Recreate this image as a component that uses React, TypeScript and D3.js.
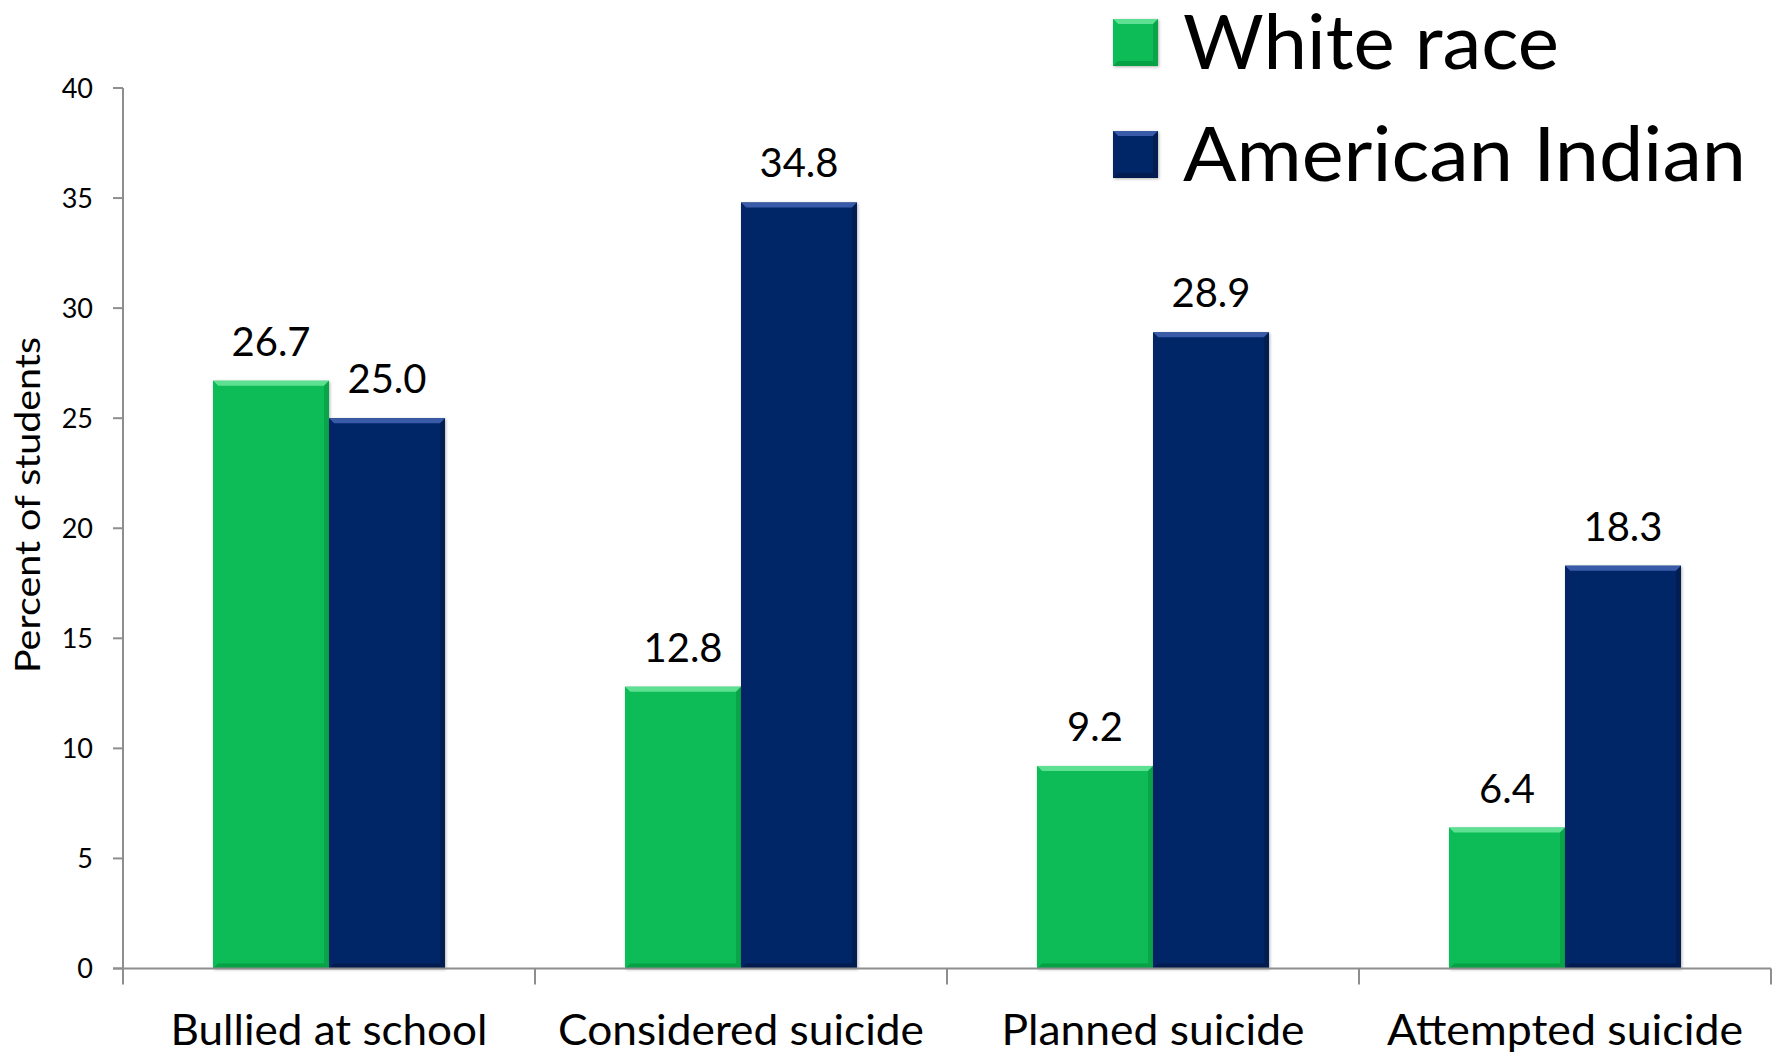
import React from "react";
import * as d3 from "d3";

const categories = ["Bullied at school", "Considered suicide", "Planned suicide", "Attempted suicide"];
const seriesNames = ["White race", "American Indian"];
const whiteRace = [26.7, 12.8, 9.2, 6.4];
const americanIndian = [25.0, 34.8, 28.9, 18.3];
const yTicks = [0, 5, 10, 15, 20, 25, 30, 35, 40];
const colors = ["#0ABC57", "#062568"];
const lightColors = ["#5EE092", "#3A5CA8"];
const darkColors = ["#06963F", "#031845"];

const W = 1775;
const H = 1053;
const FONT = "Lato, 'Open Sans', sans-serif";

export default function App() {
  const left = 123;
  const right = 1771;
  const top = 88;
  const bottom = 968.5;

  const x0 = d3.scaleBand<string>().domain(categories).range([left, right]).padding(0);
  const cw = x0.bandwidth();
  const x1 = d3.scaleBand<string>().domain(seriesNames).range([cw * 0.2185, cw * 0.7815]).padding(0);
  const y = d3.scaleLinear().domain([0, 40]).range([bottom, top]);
  const series = [whiteRace, americanIndian];
  const axisColor = "#8E8E8E";
  const b = 5;
  const catWidths = [317, 366, 303, 356];
  const legendWidths = [376, 563];

  const bar = (xx: number, yy: number, w: number, h: number, si: number, key: string) => (
    <g key={key}>
      <rect x={xx} y={yy} width={w} height={h} fill={colors[si]} filter="url(#shadow)" />
      <polygon points={`${xx},${yy} ${xx + w},${yy} ${xx + w - b},${yy + b} ${xx + b},${yy + b}`} fill={lightColors[si]} />
      <polygon points={`${xx},${yy} ${xx + b},${yy + b} ${xx + b},${yy + h - b} ${xx},${yy + h}`} fill={colors[si]} opacity={0.9} />
      <polygon points={`${xx + w},${yy} ${xx + w - b},${yy + b} ${xx + w - b},${yy + h - b} ${xx + w},${yy + h}`} fill={darkColors[si]} opacity={0.6} />
      <polygon points={`${xx},${yy + h} ${xx + b},${yy + h - b} ${xx + w - b},${yy + h - b} ${xx + w},${yy + h}`} fill={darkColors[si]} opacity={0.7} />
    </g>
  );

  return (
    <svg width={W} height={H} style={{ position: "absolute", left: 0, top: 0, background: "#fff" }} fontFamily={FONT}>
      <defs>
        <filter id="shadow" x="-10%" y="-10%" width="120%" height="120%">
          <feDropShadow dx="1" dy="1" stdDeviation="1.5" floodColor="#000" floodOpacity="0.3" />
        </filter>
      </defs>

      {/* y axis */}
      <line x1={left} x2={left} y1={top} y2={bottom + 16} stroke={axisColor} strokeWidth={2} />
      {yTicks.map((t) => (
        <g key={t}>
          <line x1={left - 10} x2={left} y1={y(t)} y2={y(t)} stroke={axisColor} strokeWidth={2} />
          <text x={93} y={y(t)} dy="0.36em" textAnchor="end" fontSize={27} fill="#000">{t}</text>
        </g>
      ))}
      <text transform={`translate(40, 505) rotate(-90)`} textAnchor="middle" fontSize={34} textLength={336} lengthAdjust="spacingAndGlyphs" fill="#000">Percent of students</text>

      {/* bars */}
      {categories.map((c, ci) =>
        series.map((vals, si) => {
          const xx = (x0(c) as number) + (x1(seriesNames[si]) as number);
          const w = x1.bandwidth();
          const yy = y(vals[ci]);
          return bar(xx, yy, w, bottom - yy, si, `${ci}-${si}`);
        })
      )}

      {/* x axis */}
      <line x1={left - 10} x2={right} y1={bottom} y2={bottom} stroke={axisColor} strokeWidth={2} />
      {categories.map((c) => (
        <line key={c} x1={(x0(c) as number) + cw} x2={(x0(c) as number) + cw} y1={bottom} y2={bottom + 16} stroke={axisColor} strokeWidth={2} />
      ))}

      {/* value labels */}
      {categories.map((c, ci) =>
        series.map((vals, si) => {
          const xx = (x0(c) as number) + (x1(seriesNames[si]) as number) + x1.bandwidth() / 2;
          return (
            <text key={`l${ci}-${si}`} x={xx} y={y(vals[ci]) - 25} textAnchor="middle" fontSize={40} fill="#000">
              {vals[ci].toFixed(1)}
            </text>
          );
        })
      )}

      {/* category labels */}
      {categories.map((c, ci) => (
        <text key={c} x={(x0(c) as number) + cw / 2} y={1045} textAnchor="middle" fontSize={42} textLength={catWidths[ci]} lengthAdjust="spacingAndGlyphs" fill="#000">{c}</text>
      ))}

      {/* legend */}
      {seriesNames.map((s, i) => {
        const ly = 19 + i * 112;
        return (
          <g key={s}>
            {bar(1113, ly, 45, 47, i, `leg${i}`)}
            <text x={1183} y={ly + 50} fontSize={76} textLength={legendWidths[i]} lengthAdjust="spacingAndGlyphs" fill="#000">{s}</text>
          </g>
        );
      })}
    </svg>
  );
}
